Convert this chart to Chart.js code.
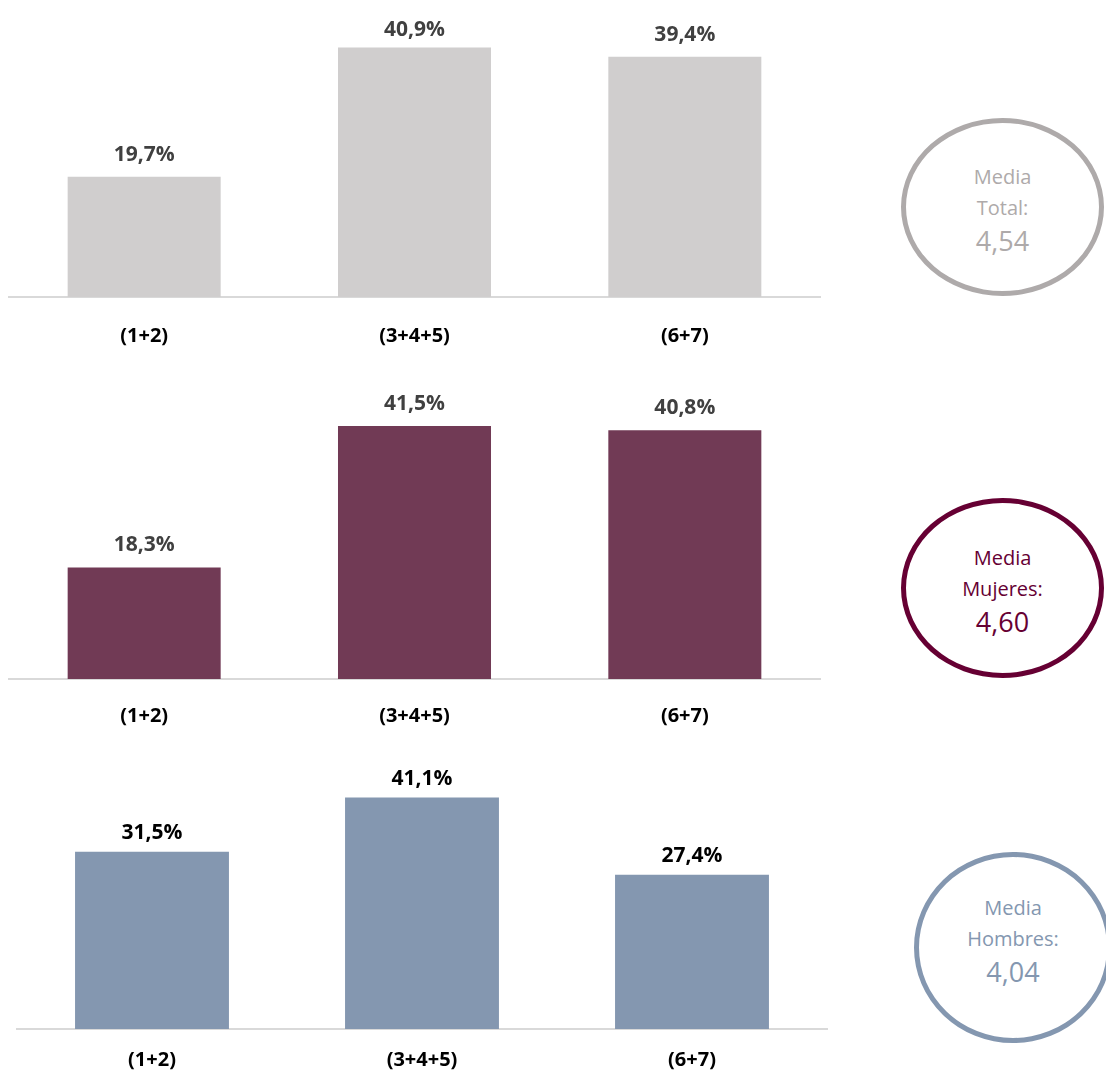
<!DOCTYPE html>
<html lang="es">
<head>
<meta charset="utf-8">
<title>Media por grupo</title>
<script src="https://cdn.jsdelivr.net/npm/chart.js@4.4.1/dist/chart.umd.min.js"></script>
<style>
  html, body {
    margin: 0;
    padding: 0;
    background: #ffffff;
    overflow: hidden;
    width: 1106px;
    height: 1072px;
  }
  .panel {
    position: absolute;
    left: 0;
  }
  .media {
    position: absolute;
    box-sizing: border-box;
    border: 5px solid;
    border-radius: 50%;
    display: flex;
    flex-direction: column;
    justify-content: center;
    align-items: center;
    font-family: "Open Sans", "Liberation Sans", sans-serif;
    text-align: center;
  }
  .media .line {
    font-size: 20px;
    line-height: 31px;
  }
  .media .value {
    font-size: 27px;
    line-height: 35px;
  }
</style>
</head>
<body>

<canvas id="chartTotal" class="panel"></canvas>
<canvas id="chartMujeres" class="panel"></canvas>
<canvas id="chartHombres" class="panel"></canvas>

<div id="mediaTotal" class="media"></div>
<div id="mediaMujeres" class="media"></div>
<div id="mediaHombres" class="media"></div>

<script>
// Categories and percentages per group
const categories = ["(1+2)", "(3+4+5)", "(6+7)"];
const totalValues = [19.7, 40.9, 39.4];
const mujeresValues = [18.3, 41.5, 40.8];
const hombresValues = [31.5, 41.1, 27.4];

// Average score shown in the ellipse next to each chart
const mediaTitles = ["Total:", "Mujeres:", "Hombres:"];
const mediaValues = ["4,54", "4,60", "4,04"];

const FONT = "'Open Sans', 'Liberation Sans', sans-serif";

// Panel layout (canvas placement, scale range, colours)
const panels = [
  {
    id: "chartTotal", values: totalValues,
    top: 0, width: 840, padLeft: 9, yMax: 48.7, barPct: 0.566, tickPad: 27,
    barColor: "#d0cece", labelColor: "#404040", labelGap: 16, labelMinY: 36,
  },
  {
    id: "chartMujeres", values: mujeresValues,
    top: 382, width: 840, padLeft: 9, yMax: 48.7, barPct: 0.566, tickPad: 25,
    barColor: "#713a55", labelColor: "#404040", labelGap: 16, labelMinY: 0,
  },
  {
    id: "chartHombres", values: hombresValues,
    top: 732, width: 847, padLeft: 17, yMax: 52.75, barPct: 0.57, tickPad: 19,
    barColor: "#8497b0", labelColor: "#000000", labelGap: 13, labelMinY: 0,
  },
];

const mediaBoxes = [
  { id: "mediaTotal", left: 901, top: 118, w: 203, h: 178, color: "#aeaaaa", shift: 4 },
  { id: "mediaMujeres", left: 901, top: 498, w: 203, h: 180, color: "#660033", shift: 4 },
  { id: "mediaHombres", left: 914, top: 852, w: 198, h: 191, color: "#8497b0", shift: -14 },
];

const CANVAS_HEIGHT = 350;
const AXIS_HEIGHT = 53;

// Writes the percentage above each bar
const valueLabels = {
  id: "valueLabels",
  afterDatasetsDraw(chart, args, opts) {
    const ctx = chart.ctx;
    const meta = chart.getDatasetMeta(0);
    ctx.save();
    ctx.font = `bold 21px ${FONT}`;
    ctx.fillStyle = opts.color;
    ctx.textAlign = "center";
    ctx.textBaseline = "alphabetic";
    meta.data.forEach((bar, i) => {
      const v = chart.data.datasets[0].data[i];
      const text = v.toFixed(1).replace(".", ",") + "%";
      const y = Math.max(bar.y - opts.gap, opts.minY);
      ctx.fillText(text, bar.x, y);
    });
    ctx.restore();
  },
};

function buildChart(p) {
  const canvas = document.getElementById(p.id);
  canvas.width = p.width;
  canvas.height = CANVAS_HEIGHT;
  canvas.style.top = p.top + "px";

  return new Chart(canvas.getContext("2d"), {
    type: "bar",
    data: {
      labels: categories,
      datasets: [
        {
          data: p.values,
          backgroundColor: p.barColor,
          borderWidth: 0,
          barPercentage: p.barPct,
          categoryPercentage: 1,
        },
      ],
    },
    options: {
      responsive: false,
      animation: false,
      devicePixelRatio: 1,
      layout: { padding: { top: 0, left: p.padLeft, right: 20, bottom: 0 } },
      plugins: {
        legend: { display: false },
        tooltip: { enabled: false },
        valueLabels: { color: p.labelColor, gap: p.labelGap, minY: p.labelMinY },
      },
      scales: {
        x: {
          grid: { display: false, drawTicks: false },
          border: { display: true, color: "#d9d9d9", width: 2 },
          ticks: {
            padding: p.tickPad,
            color: "#000000",
            font: { family: FONT, size: 20, weight: "bold" },
          },
          afterFit(scale) {
            scale.height = AXIS_HEIGHT;
          },
        },
        y: {
          display: false,
          min: 0,
          max: p.yMax,
        },
      },
    },
    plugins: [valueLabels],
  });
}

function buildMedia(box, title, value) {
  const el = document.getElementById(box.id);
  el.style.left = box.left + "px";
  el.style.top = box.top + "px";
  el.style.width = box.w + "px";
  el.style.height = box.h + "px";
  el.style.borderColor = box.color;
  el.style.color = box.color;
  if (box.shift > 0) el.style.paddingTop = box.shift + "px";
  else el.style.paddingBottom = -box.shift + "px";
  el.innerHTML =
    `<div class="line">Media</div>` +
    `<div class="line">${title}</div>` +
    `<div class="value">${value}</div>`;
}

document.addEventListener("DOMContentLoaded", () => {
  panels.forEach(buildChart);
  mediaBoxes.forEach((box, i) => buildMedia(box, mediaTitles[i], mediaValues[i]));
});
</script>
</body>
</html>
